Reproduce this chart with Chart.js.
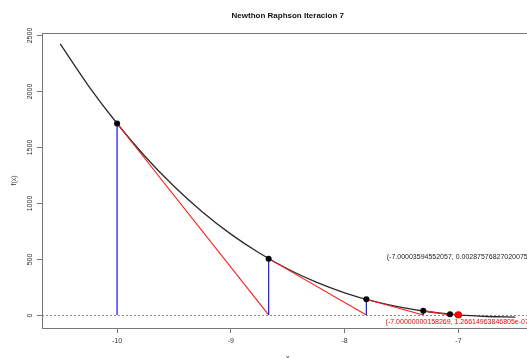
<!DOCTYPE html>
<html>
<head>
<meta charset="utf-8">
<script src="https://cdn.jsdelivr.net/npm/chart.js@4/dist/chart.umd.min.js"></script>
<style>
html,body{margin:0;padding:0;overflow:hidden;background:#fff;}
canvas{display:block;}
</style>
</head>
<body>
<canvas id="c" width="560" height="372"></canvas>
<script>
// Function curve f(x)
const curveX = [-10.5,-10.25,-10,-9.75,-9.5,-9.25,-9,-8.75,-8.5,-8.25,-8,-7.75,-7.5,-7.25,-7,-6.75,-6.5];
const curveY = [2422,2046,1711,1412,1150,920,722,553,410,293,198,123,67,26,0,-14,-19];
// Newton-Raphson iterates x_n and f(x_n)
const iterX = [-10,-8.668,-7.809,-7.309,-7.074,-7.0057,-7.00003594552057,-7.00000000158269];
const iterY = [1711,503,140,38,7,0.45,0.00287576827020075,1.26614963846805e-07];
// Tick labels
const xTicks = [-10,-9,-8,-7];
const yTicks = [0,500,1000,1500,2000,2500];
// Texts
const titleText = "Newthon Raphson Iteracion 7";
const prevLabel = "(" + "-7.00003594552057" + ", " + "0.00287576827020075" + ")";
const lastLabel = "(" + "-7.00000000158269" + ", " + "1.26614963846805e-07" + ")";

const FONT = "'Liberation Sans', Arial, Helvetica, sans-serif";

const curveData = curveX.map((x,i)=>({x, y:curveY[i]}));
const tangentData = [];
const verticalData = [];
for (let i=0;i<iterX.length;i++){
  verticalData.push({x:iterX[i], y:0},{x:iterX[i], y:iterY[i]},{x:iterX[i], y:null});
  if (i<iterX.length-1){
    tangentData.push({x:iterX[i], y:iterY[i]},{x:iterX[i+1], y:0},{x:iterX[i+1], y:null});
  }
}
const dotData = iterX.slice(0,-1).map((x,i)=>({x, y:iterY[i]}));
const lastDot = [{x:iterX[iterX.length-1], y:iterY[iterY.length-1]}];

const framePlugin = {
  id:'frame',
  beforeDatasetsDraw(chart){
    const {ctx, chartArea:a, scales:{y}} = chart;
    const py = Math.round(y.getPixelForValue(0))+0.5;
    ctx.save();
    ctx.strokeStyle = '#8a8a8a';
    ctx.lineWidth = 1;
    ctx.setLineDash([2,2]);
    ctx.beginPath(); ctx.moveTo(a.left, py); ctx.lineTo(a.right, py); ctx.stroke();
    ctx.restore();
  },
  afterDatasetsDraw(chart){
    const {ctx, chartArea:a, scales:{x,y}} = chart;
    ctx.save();
    ctx.strokeStyle = '#777';
    ctx.lineWidth = 1;
    ctx.strokeRect(Math.round(a.left)+0.5, Math.round(a.top)+0.5, Math.round(a.right-a.left), Math.round(a.bottom-a.top));
    // y tick marks and rotated labels
    ctx.fillStyle = '#333';
    ctx.font = "7px " + FONT;
    ctx.textAlign = 'center';
    ctx.textBaseline = 'middle';
    yTicks.forEach(v=>{
      const py = Math.round(y.getPixelForValue(v))+0.5;
      ctx.beginPath(); ctx.moveTo(a.left-5, py); ctx.lineTo(a.left, py); ctx.stroke();
      ctx.save();
      ctx.translate(30, py);
      ctx.rotate(-Math.PI/2);
      ctx.fillText(String(v), 0, 0);
      ctx.restore();
    });
    // annotations
    ctx.font = "7px " + FONT;
    ctx.fillStyle = '#222';
    const n = iterX.length;
    ctx.fillText(prevLabel, x.getPixelForValue(iterX[n-2]), y.getPixelForValue(iterY[n-2] + 520));
    ctx.fillStyle = '#ff0000';
    ctx.fillText(lastLabel, x.getPixelForValue(iterX[n-1]), y.getPixelForValue(-68));
    ctx.restore();
  }
};

new Chart(document.getElementById('c'), {
  type:'scatter',
  data:{
    datasets:[
      {label:'last', data:lastDot, pointRadius:3.6, pointBackgroundColor:'#ff0000', pointBorderColor:'#ff0000', pointBorderWidth:0, showLine:false, order:0},
      {label:'iterates', data:dotData, pointRadius:3, pointBackgroundColor:'#000', pointBorderColor:'#000', pointBorderWidth:0, showLine:false, order:1},
      {label:'verticals', data:verticalData, showLine:true, pointRadius:0, borderColor:'#2222ff', borderWidth:1.3, spanGaps:false, order:2},
      {label:'tangents', data:tangentData, showLine:true, pointRadius:0, borderColor:'#ff1a1a', borderWidth:1.1, spanGaps:false, order:3},
      {label:'f', data:curveData, showLine:true, pointRadius:0, borderColor:'#2a2a2a', borderWidth:1.3, cubicInterpolationMode:'monotone', order:4}
    ]
  },
  options:{
    responsive:false,
    animation:false,
    devicePixelRatio:1,
    layout:{padding:{left:0,right:26.5,top:0,bottom:0}},
    plugins:{
      legend:{display:false},
      tooltip:{enabled:false},
      title:{display:true, text:titleText, fullSize:false, color:'#111',
        font:{family:FONT, size:8, weight:'bold'}, padding:{top:11, bottom:12.4}}
    },
    scales:{
      x:{type:'linear', min:-10.66, max:-6.34,
        afterBuildTicks(s){ s.ticks = xTicks.map(v=>({value:v})); },
        afterFit(s){ s.height = 44; },
        grid:{display:true, drawOnChartArea:false, drawTicks:true, tickLength:5, color:'#777'},
        border:{display:false},
        ticks:{font:{family:FONT, size:7}, color:'#333', padding:4, maxRotation:0, callback:(v)=>String(v)},
        title:{display:true, text:'x', font:{family:FONT, size:7}, color:'#333', padding:{top:0,bottom:10}}
      },
      y:{type:'linear', min:-117, max:2520,
        afterBuildTicks(s){ s.ticks = yTicks.map(v=>({value:v})); },
        afterFit(s){ s.width = 42; },
        grid:{display:false},
        border:{display:false},
        ticks:{display:false},
        title:{display:true, text:'f(x)', font:{family:FONT, size:7}, color:'#333', padding:{top:10,bottom:0}}
      }
    }
  },
  plugins:[framePlugin]
});
</script>
</body>
</html>
